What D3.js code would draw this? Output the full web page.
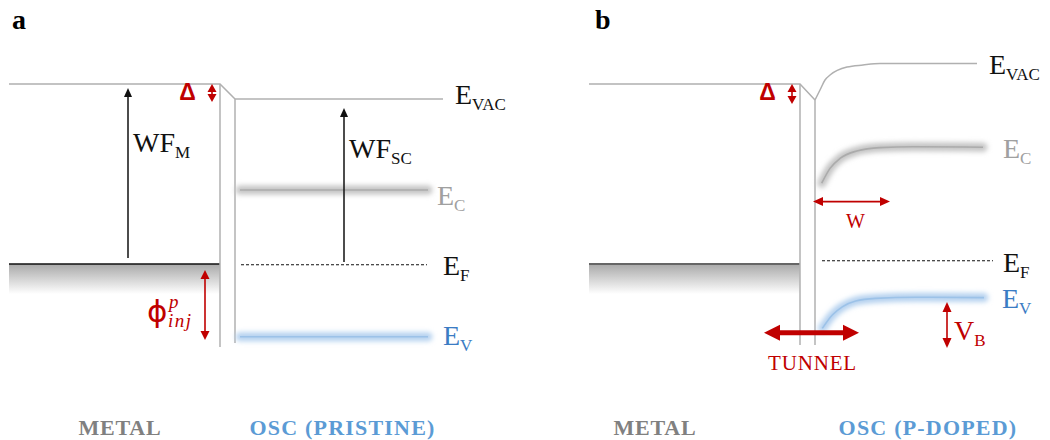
<!DOCTYPE html>
<html>
<head>
<meta charset="utf-8">
<script src="https://cdnjs.cloudflare.com/ajax/libs/d3/7.8.5/d3.min.js"></script>
<style>
  body { margin: 0; background: #fff; }
  svg text { font-family: "Liberation Serif", "DejaVu Serif", serif; }
</style>
</head>
<body>
<div id="chart"></div>
<script>
// energies in eV (0 = metal vacuum level), positions in nm (0 = metal surface)
var panelNames = ['a', 'b'];
var regionLabels = [['METAL', 'OSC (PRISTINE)'], ['METAL', 'OSC (P-DOPED)']];
var regionLabelX = [[-10, 12.25], [-14.5, 12.8]];

var metalStart = -21.1;
var metalEF = [-4.5, -4.5];
var oscSurface = 1.5;
var oscVac = [-0.375, -0.4];          // vacuum level right at the OSC surface
var wallBottom = [[-6.575, -6.475], [-6.525, -6.525]];

// panel a: flat bands
var pristineNames = ['E_C', 'E_F', 'E_V'];
var pristineE = [-2.65, -4.52, -6.32];
var pristineFrom = [2.0, 2.1, 2.0];
var pristineTo = [20.8, 20.7, 20.8];
var pristineVacEnd = 22.3;

// panel b: bent bands
var dopedVacX = [1.5, 2.0, 2.5, 3.0, 4.7, 6.3, 8.0, 17.7];
var dopedVacE = [-0.4, -0.15, 0.1, 0.225, 0.425, 0.475, 0.51, 0.51];
var dopedCbX = [2.17, 3.0, 4.0, 5.67, 8.0, 11.3, 18.3];
var dopedCbE = [-2.48, -2.11, -1.86, -1.675, -1.59, -1.57, -1.58];
var dopedVbX = [2.23, 3.23, 4.23, 5.57, 7.57, 11.57, 18.4];
var dopedVbE = [-6.11, -5.775, -5.57, -5.425, -5.36, -5.33, -5.34];
var dopedEF = -4.42;
var dopedEFFrom = 2.2, dopedEFTo = 19.3;

// arrows: [x, energy from, energy to]
var wfArrows = [[-9.2, -4.35, -0.1], [12.4, -4.45, -0.6]];
var deltaArrows = [[-0.8, 0, -0.45], [-0.8, 0, -0.5]];
var phiArrow = [-1.5, -4.65, -6.4];
var wArrow = [1.3, 9.0, -2.94];       // x from, x to, energy
var tunnelArrow = [-3.6, 5.9, -6.22];
var vbArrow = [14.7, -5.45, -6.6];

var app = {};
app.red = '#c00000';
app.lineGray = '#b0b0b0';
app.blueText = '#3b7cc4';
app.serif = '"Liberation Serif", "DejaVu Serif", serif';
app.x = [
  d3.scaleLinear().domain([-22, 23]).range([0, 450]),
  d3.scaleLinear().domain([-22, 23]).range([580, 1030])
];
app.y = d3.scaleLinear().domain([0, -7]).range([84, 364]);

app.arrow = function(g, x1, y1, x2, y2, o){
  var dx = x2 - x1, dy = y2 - y1, len = Math.sqrt(dx*dx + dy*dy);
  var ux = dx/len, uy = dy/len;
  var cut = o.head*0.7;
  g.append('line')
    .attr('x1', x1 + (o.both ? ux*cut : 0)).attr('y1', y1 + (o.both ? uy*cut : 0))
    .attr('x2', x2 - ux*cut).attr('y2', y2 - uy*cut)
    .style('stroke', o.color).style('stroke-width', o.width);
  var head = function(tx, ty, vx, vy){
    var bx = tx - vx*o.head, by = ty - vy*o.head;
    g.append('path')
      .attr('d', 'M' + tx + ',' + ty +
        'L' + (bx - vy*o.hw) + ',' + (by + vx*o.hw) +
        'L' + (bx + vy*o.hw) + ',' + (by - vx*o.hw) + 'Z')
      .style('fill', o.color);
  };
  head(x2, y2, ux, uy);
  if(o.both) head(x1, y1, -ux, -uy);
};

app.text = function(g, x, y, str, size){
  return g.append('text')
    .attr('x', x).attr('y', y)
    .style('font-family', app.serif)
    .attr('font-size', size)
    .text(str);
};

app.level = function(g, x, y, main, sub, color, size){
  var t = app.text(g, x, y, main, size || 28).style('fill', color);
  t.append('tspan').attr('dy', 6).attr('font-size', 17).text(sub);
  return t;
};

app.glow = function(g, d, glowColor, coreColor){
  g.append('path').attr('d', d)
    .style('fill', 'none').style('stroke', glowColor)
    .style('stroke-width', 9).style('stroke-linecap', 'round')
    .attr('filter', 'url(#blur)');
  g.append('path').attr('d', d)
    .style('fill', 'none').style('stroke', coreColor)
    .style('stroke-width', 1.6);
};

app.init = function(){
  var svg = d3.select('#chart').append('svg')
    .attr('width', 1050).attr('height', 440)
    .style('display', 'block');
  svg.append('rect').attr('width', 1050).attr('height', 440).style('fill', '#fff');

  var defs = svg.append('defs');
  // user space region so that flat lines still get blurred
  defs.append('filter').attr('id', 'blur')
    .attr('filterUnits', 'userSpaceOnUse')
    .attr('x', 0).attr('y', 0).attr('width', 1050).attr('height', 440)
    .append('feGaussianBlur').attr('stdDeviation', 2.6);
  var grad = defs.append('linearGradient').attr('id', 'metalGrad')
    .attr('x1', 0).attr('y1', 0).attr('x2', 0).attr('y2', 1);
  grad.append('stop').attr('offset', '0%').style('stop-color', '#a9a9a9');
  grad.append('stop').attr('offset', '100%').style('stop-color', '#fff');

  var y = app.y;

  panelNames.forEach(function(name, p){
    var x = app.x[p];
    var g = svg.append('g');

    app.text(g, p == 0 ? 12 : 595, 29, name, 28).attr('font-weight', 'bold');

    // metal
    g.append('rect')
      .attr('x', x(metalStart)).attr('y', y(metalEF[p]))
      .attr('width', x(0) - x(metalStart)).attr('height', 30)
      .style('fill', 'url(#metalGrad)');
    g.append('line')
      .attr('x1', x(metalStart)).attr('x2', x(0))
      .attr('y1', y(metalEF[p])).attr('y2', y(metalEF[p]))
      .style('stroke', p == 0 ? '#111' : '#666')
      .style('stroke-width', p == 0 ? 1.3 : 2);
    g.append('path')
      .attr('d', 'M' + x(metalStart) + ',' + y(0) + 'H' + x(0) +
        'L' + x(oscSurface) + ',' + y(oscVac[p]))
      .style('fill', 'none').style('stroke', app.lineGray).style('stroke-width', 1.5);

    // interface walls
    g.append('line')
      .attr('x1', x(0)).attr('x2', x(0))
      .attr('y1', y(0)).attr('y2', y(wallBottom[p][0]))
      .style('stroke', app.lineGray).style('stroke-width', 1.5);
    g.append('line')
      .attr('x1', x(oscSurface)).attr('x2', x(oscSurface))
      .attr('y1', y(oscVac[p])).attr('y2', y(wallBottom[p][1]))
      .style('stroke', app.lineGray).style('stroke-width', 1.5);

    // delta
    var da = deltaArrows[p];
    app.arrow(g, x(da[0]), y(da[1]), x(da[0]), y(da[2]),
      {color: app.red, width: 1.6, head: 8, hw: 4.5, both: true});
    g.append('text')
      .attr('x', x(-3.25)).attr('y', y(-0.41))
      .attr('text-anchor', 'middle')
      .style('font-family', '"Liberation Sans", "DejaVu Sans", sans-serif')
      .attr('font-size', 23).attr('font-weight', 'bold')
      .style('fill', app.red)
      .text('\u0394');

    // bottom labels
    var lab = regionLabels[p];
    app.text(g, x(regionLabelX[p][0]), 435, lab[0], 22)
      .attr('text-anchor', 'middle').attr('font-weight', 'bold')
      .style('fill', '#808080').style('letter-spacing', '0.8px');
    app.text(g, x(regionLabelX[p][1]), 435, lab[1], 22)
      .attr('text-anchor', 'middle').attr('font-weight', 'bold')
      .style('fill', '#5b9bd5').style('letter-spacing', '1.2px');

    if(p == 0){
      var line = d3.line();
      g.append('line')
        .attr('x1', x(oscSurface)).attr('x2', x(pristineVacEnd))
        .attr('y1', y(oscVac[0])).attr('y2', y(oscVac[0]))
        .style('stroke', app.lineGray).style('stroke-width', 1.5);
      app.level(g, x(pristineVacEnd) + 12, y(oscVac[0]) + 5, 'E', 'VAC', '#111');

      // E_C
      app.glow(g, line([[x(pristineFrom[0]), y(pristineE[0])], [x(pristineTo[0]), y(pristineE[0])]]),
        '#c4c4c4', '#ababab');
      app.level(g, x(pristineTo[0]) + 9, y(pristineE[0]) + 15, 'E', 'C', '#a0a0a0');
      // E_F
      g.append('line')
        .attr('x1', x(pristineFrom[1])).attr('x2', x(pristineTo[1]))
        .attr('y1', y(pristineE[1])).attr('y2', y(pristineE[1]))
        .style('stroke', '#111').style('stroke-width', 1.1)
        .style('stroke-dasharray', '3,2');
      app.level(g, x(pristineTo[1]) + 16, y(pristineE[1]) + 10, 'E', 'F', '#111');
      // E_V
      app.glow(g, line([[x(pristineFrom[2]), y(pristineE[2])], [x(pristineTo[2]), y(pristineE[2])]]),
        '#b5d1ef', '#9cc2e8');
      app.level(g, x(pristineTo[2]) + 15, y(pristineE[2]) + 8, 'E', 'V', app.blueText);

      // work functions
      wfArrows.forEach(function(a){
        app.arrow(g, x(a[0]), y(a[1]), x(a[0]), y(a[2]),
          {color: '#111', width: 1.5, head: 9, hw: 4});
      });
      app.level(g, x(wfArrows[0][0]) + 5, 152, 'WF', 'M', '#111');
      app.level(g, x(wfArrows[1][0]) + 5, 158, 'WF', 'SC', '#111');

      // injection barrier
      app.arrow(g, x(phiArrow[0]), y(phiArrow[1]), x(phiArrow[0]), y(phiArrow[2]),
        {color: app.red, width: 1.6, head: 9, hw: 4.5, both: true});
      app.text(g, 147, 322, '\u03D5', 31)
        .style('font-family', '"DejaVu Sans", sans-serif').style('fill', app.red);
      app.text(g, 169, 308, 'p', 19).attr('font-style', 'italic').style('fill', app.red);
      app.text(g, 168, 327, 'inj', 19).attr('font-style', 'italic')
        .style('fill', app.red).style('letter-spacing', '1.5px');
    } else {
      var curve = d3.line()
        .x(function(d){ return x(d[0]); })
        .y(function(d){ return y(d[1]); })
        .curve(d3.curveMonotoneX);
      var vac = d3.zip(dopedVacX, dopedVacE);
      var cb = d3.zip(dopedCbX, dopedCbE);
      var vb = d3.zip(dopedVbX, dopedVbE);

      g.append('path').attr('d', curve(vac))
        .style('fill', 'none').style('stroke', app.lineGray).style('stroke-width', 1.5);
      app.level(g, x(dopedVacX[dopedVacX.length-1]) + 12, y(dopedVacE[dopedVacE.length-1]) + 10, 'E', 'VAC', '#111');

      app.glow(g, curve(cb), '#c4c4c4', '#ababab');
      app.level(g, x(dopedCbX[dopedCbX.length-1]) + 20, y(dopedCbE[dopedCbE.length-1]) + 11, 'E', 'C', '#a0a0a0');

      g.append('line')
        .attr('x1', x(dopedEFFrom)).attr('x2', x(dopedEFTo))
        .attr('y1', y(dopedEF)).attr('y2', y(dopedEF))
        .style('stroke', '#111').style('stroke-width', 1.1)
        .style('stroke-dasharray', '3,2');
      app.level(g, x(dopedEFTo) + 10, y(dopedEF) + 11, 'E', 'F', '#111');

      app.glow(g, curve(vb), '#b5d1ef', '#9cc2e8');
      app.level(g, x(dopedVbX[dopedVbX.length-1]) + 18, y(dopedVbE[dopedVbE.length-1]) + 10, 'E', 'V', app.blueText);

      // depletion width
      app.arrow(g, x(wArrow[0]), y(wArrow[2]), x(wArrow[1]), y(wArrow[2]),
        {color: app.red, width: 1.6, head: 10, hw: 4.5, both: true});
      app.text(g, x((wArrow[0] + wArrow[1]) / 2) + 4, y(wArrow[2]) + 26, 'W', 20)
        .attr('text-anchor', 'middle').style('fill', app.red);

      // tunnelling
      app.arrow(g, x(tunnelArrow[0]), y(tunnelArrow[2]), x(tunnelArrow[1]), y(tunnelArrow[2]),
        {color: app.red, width: 5, head: 16, hw: 8, both: true});
      app.text(g, x((tunnelArrow[0] + tunnelArrow[1]) / 2) + 1, y(tunnelArrow[2]) + 37, 'TUNNEL', 21)
        .attr('text-anchor', 'middle').style('fill', app.red).style('letter-spacing', '0.8px');

      // band bending
      app.arrow(g, x(vbArrow[0]), y(vbArrow[1]), x(vbArrow[0]), y(vbArrow[2]),
        {color: app.red, width: 1.6, head: 10, hw: 4.5, both: true});
      app.level(g, x(vbArrow[0]) + 7, y(vbArrow[1]) + 38, 'V', 'B', app.red);
    }
  });
};

if (document.addEventListener) {
  document.addEventListener('DOMContentLoaded', app.init, false);
};
</script>
</body>
</html>
